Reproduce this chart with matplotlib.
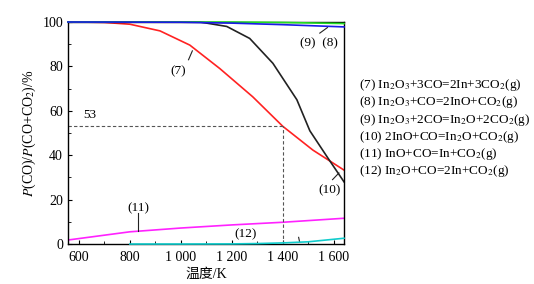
import matplotlib
matplotlib.use("Agg")
import matplotlib.pyplot as plt
from matplotlib.ticker import MultipleLocator, FuncFormatter

plt.rcParams["font.family"] = ["Liberation Serif", "Noto Sans CJK SC"]
plt.rcParams["mathtext.fontset"] = "stix"
plt.rcParams["axes.unicode_minus"] = False

# curve data (temperature K, P(CO)/P(CO+CO2) %)
t7 = [557, 600, 700, 800, 918, 1035, 1153, 1282, 1400, 1518, 1640]
v7 = [100, 100, 99.8, 99, 96, 89.6, 79, 66.3, 53, 42.3, 33.3]
t8 = [557, 1000, 1200, 1400, 1640]
v8 = [100, 99.9, 99.5, 98.8, 97.8]
t9 = [557, 1200, 1400, 1640]
v9 = [100, 100, 99.8, 99.3]
t10 = [557, 800, 1000, 1075, 1180, 1270, 1361, 1455, 1506, 1577, 1640]
v10 = [100, 100, 100, 100, 98, 92.6, 81.4, 65, 51, 38.7, 28]
t11 = [557, 800, 1000, 1200, 1400, 1640]
v11 = [1.8, 5.5, 7.2, 8.6, 9.8, 11.6]
t12 = [800, 1000, 1200, 1300, 1400, 1500, 1640]
v12 = [0, 0, 0.05, 0.2, 0.5, 1.0, 2.6]

reactions = [
    r"(7) In$_2$O$_3$+3CO=2In+3CO$_2$(g)",
    r"(8) In$_2$O$_3$+CO=2InO+CO$_2$(g)",
    r"(9) In$_2$O$_3$+2CO=In$_2$O+2CO$_2$(g)",
    r"(10) 2InO+CO=In$_2$O+CO$_2$(g)",
    r"(11) InO+CO=In+CO$_2$(g)",
    r"(12) In$_2$O+CO=2In+CO$_2$(g)",
]

fig = plt.figure(figsize=(5.34, 2.84), dpi=100)
ax = fig.add_axes([0.1273, 0.1408, 0.5169, 0.7817])

lw = 1.2
ax.plot(t9, v9, color="#22dd22", lw=lw, clip_on=False, zorder=3)
ax.plot(t8, v8, color="#1a1ae6", lw=lw, clip_on=False, zorder=3)
ax.plot(t7, v7, color="#ff2222", lw=lw)
ax.plot(t10, v10, color="#222222", lw=lw, clip_on=False)
ax.plot(t11, v11, color="#ff22ff", lw=lw)
ax.plot(t12, v12, color="#11cccc", lw=lw, clip_on=False, zorder=3)

# guide lines at 1400 K / 53 %
ax.plot([557, 1400], [53, 53], color="#555555", lw=0.8, ls=(0, (3, 2)))
ax.plot([1400, 1400], [0, 53], color="#555555", lw=0.8, ls=(0, (3, 2)))
ax.text(618, 55.5, "53", fontsize=9.5, ha="left", va="bottom")

ax.set_xlim(557, 1640)
ax.set_ylim(0, 100)
ax.xaxis.set_major_locator(MultipleLocator(200))
ax.xaxis.set_minor_locator(MultipleLocator(100))
ax.yaxis.set_major_locator(MultipleLocator(20))
ax.yaxis.set_minor_locator(MultipleLocator(10))
ax.xaxis.set_major_formatter(FuncFormatter(
    lambda v, p: f"{int(v):,}".replace(",", " ")))
ax.tick_params(which="both", direction="in", labelsize=10)
ax.tick_params(which="major", length=3, width=0.8)
ax.tick_params(which="minor", length=2, width=0.6)
ax.tick_params(axis="x", pad=5)
for s in ax.spines.values():
    s.set_linewidth(1.0)

ax.set_xlabel("温度/K", fontsize=10, labelpad=3)
ax.set_ylabel(r"$\it{P}$(CO)/$\it{P}$(CO+CO$_2$)/%", fontsize=10, labelpad=3)

# curve annotations
lc = "#222222"
ax.text(990, 78, "(7)", fontsize=9.5, ha="center", va="center")
ax.plot([1045, 1030], [87, 83], color=lc, lw=0.8)
ax.text(1540, 90.5, "(9)  (8)", fontsize=9.5, ha="center", va="center")
ax.plot([1575, 1545], [97.5, 95], color=lc, lw=0.8)
ax.text(1585, 24, "(10)", fontsize=9.5, ha="center", va="center")
ax.plot([1620, 1595], [32, 29], color=lc, lw=0.8)
ax.text(835, 16, "(11)", fontsize=9.5, ha="center", va="center")
ax.plot([830, 830], [14, 6], color=lc, lw=0.8)
ax.text(1255, 4.3, "(12)", fontsize=9.5, ha="center", va="center")
ax.plot([1462, 1466], [3, 0.8], color=lc, lw=0.8)

y0 = 0.70
for i, r in enumerate(reactions):
    fig.text(0.672, y0 - i * 0.0605, r, fontsize=9.5, ha="left", va="center")

fig.savefig("out.png", dpi=100, facecolor="white")
